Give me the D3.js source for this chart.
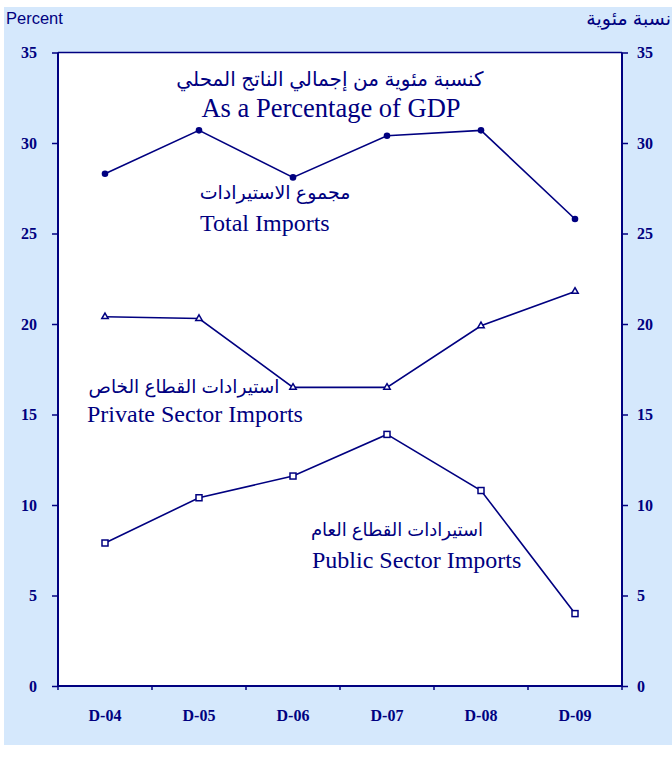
<!DOCTYPE html>
<html><head><meta charset="utf-8">
<script src="https://cdn.jsdelivr.net/npm/d3@7"></script>
<style>body{margin:0;background:#fff;} svg{display:block;}</style>
</head><body>
<script>
const categories = ["D-04","D-05","D-06","D-07","D-08","D-09"];
const totalImports = [28.3, 30.7, 28.1, 30.4, 30.7, 25.8];
const privateImports = [20.4, 20.3, 16.5, 16.5, 19.9, 21.8];
const publicImports = [7.9, 10.4, 11.6, 13.9, 10.8, 4.0];
const yTicks = [0,5,10,15,20,25,30,35];

const W = 672, H = 769;
const navy = "#000080";
const serif = "'Times New Roman','Liberation Serif',serif";
const sans = "Arial,'Liberation Sans','DejaVu Sans',sans-serif";
const arab = "Arial,'DejaVu Sans',sans-serif";
const m = {left:58, right:622, top:52.5, bottom:686};

const svg = d3.select("body").append("svg").attr("width",W).attr("height",H);
svg.append("rect").attr("x",4).attr("y",7).attr("width",W-4).attr("height",738).attr("fill","#d5e8fc");
svg.append("rect").attr("x",m.left).attr("y",m.top).attr("width",m.right-m.left).attr("height",m.bottom-m.top).attr("fill","#fff");

const x = d3.scaleBand().domain(categories).range([m.left,m.right]);
const y = d3.scaleLinear().domain([0,35]).range([m.bottom,m.top]);
const cx = d => x(d)+x.bandwidth()/2;

const yl = svg.append("g").attr("transform",`translate(${m.left},0)`)
  .call(d3.axisLeft(y).tickValues(yTicks).tickSize(6).tickPadding(15));
const yr = svg.append("g").attr("transform",`translate(${m.right},0)`)
  .call(d3.axisRight(y).tickValues(yTicks).tickSize(6).tickPadding(9));
const xb = svg.append("g").attr("transform",`translate(0,${m.bottom})`)
  .call(d3.axisBottom(x).tickSize(0).tickPadding(24));
svg.append("g").selectAll("line").data(categories.concat(["end"])).join("line")
  .attr("x1",(d,i)=>m.left+i*x.bandwidth()).attr("x2",(d,i)=>m.left+i*x.bandwidth())
  .attr("y1",m.bottom).attr("y2",m.bottom+4).attr("stroke",navy).attr("stroke-width",1.5);
[yl,yr,xb].forEach(g=>{
  g.selectAll(".domain").remove();
  g.selectAll("line").attr("stroke",navy).attr("stroke-width",1.5);
  g.selectAll("text").attr("fill",navy).attr("font-family",serif).attr("font-weight","bold").attr("font-size",16);
});
yr.selectAll("text").attr("text-anchor","start");
svg.append("line").attr("x1",m.left).attr("x2",m.right).attr("y1",m.top).attr("y2",m.top).attr("stroke",navy).attr("stroke-width",1.5);
svg.append("line").attr("x1",m.left).attr("x2",m.left).attr("y1",m.top).attr("y2",m.bottom).attr("stroke",navy).attr("stroke-width",2);
svg.append("line").attr("x1",m.right).attr("x2",m.right).attr("y1",m.top).attr("y2",m.bottom).attr("stroke",navy).attr("stroke-width",2);
svg.append("line").attr("x1",m.left).attr("x2",m.right).attr("y1",m.bottom).attr("y2",m.bottom).attr("stroke",navy).attr("stroke-width",2);

const line = d3.line().x((d,i)=>cx(categories[i])).y(d=>y(d));
[totalImports, privateImports, publicImports].forEach(s=>{
  svg.append("path").datum(s).attr("d",line).attr("fill","none").attr("stroke",navy).attr("stroke-width",1.6);
});
svg.append("g").selectAll("circle").data(totalImports).join("circle")
  .attr("cx",(d,i)=>cx(categories[i])).attr("cy",d=>y(d)).attr("r",3.3).attr("fill",navy);
const tri = d3.symbol().type(d3.symbolTriangle).size(18);
svg.append("g").selectAll("path").data(privateImports).join("path")
  .attr("d",tri).attr("transform",(d,i)=>`translate(${cx(categories[i])},${y(d)})`)
  .attr("fill","#fff").attr("stroke",navy).attr("stroke-width",1.5);
svg.append("g").selectAll("rect").data(publicImports).join("rect")
  .attr("x",(d,i)=>cx(categories[i])-3).attr("y",d=>y(d)-3).attr("width",6).attr("height",6)
  .attr("fill","#fff").attr("stroke",navy).attr("stroke-width",1.5);

svg.append("text").attr("x",6).attr("y",24).text("Percent").attr("font-family",sans).attr("font-size",16.5).attr("fill",navy);
svg.append("text").attr("x",671).attr("y",25).attr("text-anchor","end").text("نسبة مئوية").attr("font-family",arab).attr("font-size",19).attr("fill",navy);

function t(txt,xp,yp,size,fam,anchor){
  svg.append("text").attr("x",xp).attr("y",yp).attr("text-anchor",anchor||"start")
    .attr("font-family",fam).attr("font-size",size).attr("fill",navy).text(txt);
}
t("كنسبة مئوية من إجمالي الناتج المحلي",330,86,20,arab,"middle");
t("As a Percentage of GDP",331,117,26.5,serif,"middle");
t("مجموع الاستيرادات",275,199,19,arab,"middle");
t("Total Imports",200,231,24,serif);
t("استيرادات القطاع الخاص",184,393,18.5,arab,"middle");
t("Private Sector Imports",87,422,24,serif);
t("استيرادات القطاع العام",397,536,18,arab,"middle");
t("Public Sector Imports",312,568,24,serif);
</script>
</body></html>
